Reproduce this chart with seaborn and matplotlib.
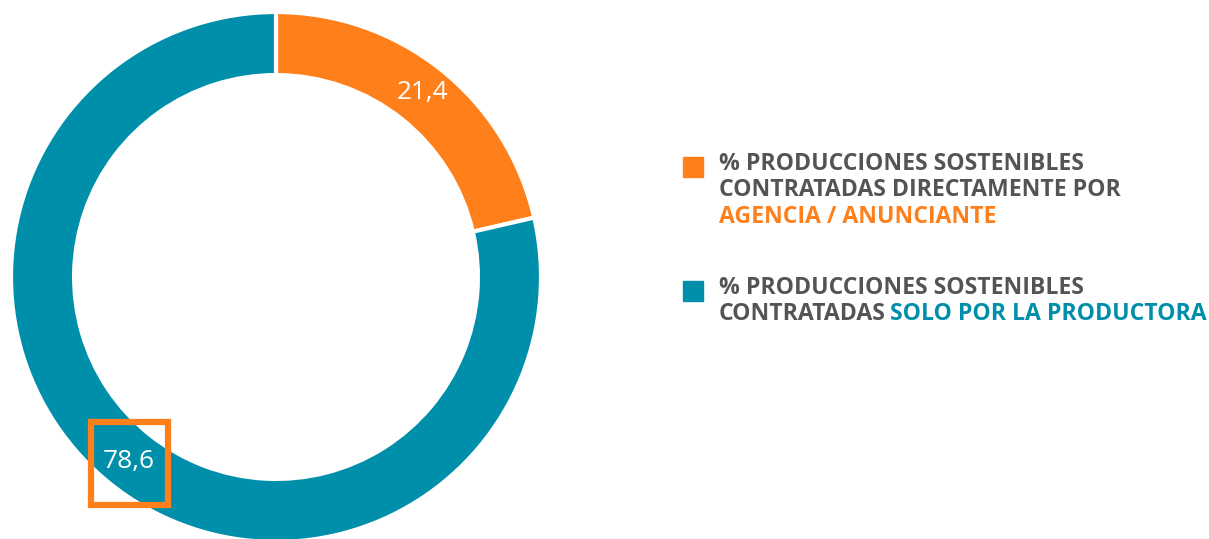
import matplotlib
matplotlib.use("Agg")
import matplotlib.pyplot as plt
import seaborn as sns
import numpy as np
from matplotlib.patches import Rectangle

sns.set_theme(style="white")
plt.rcParams['font.family'] = ['Open Sans', 'DejaVu Sans']

categories = ["AGENCIA / ANUNCIANTE", "SOLO POR LA PRODUCTORA"]
values = [21.4, 78.6]
value_labels = ["21,4", "78,6"]
colors = ["#FF7F1A", "#008FAA"]
legend_prefix = ["% PRODUCCIONES SOSTENIBLES\nCONTRATADAS DIRECTAMENTE POR",
                 "% PRODUCCIONES SOSTENIBLES\nCONTRATADAS"]
gray = "#545457"

W, H = 1209, 539
fig = plt.figure(figsize=(W / 100, H / 100), dpi=100)
ax = fig.add_axes([11 / W, -3 / H, 530 / W, 530 / H])
wedges, _ = ax.pie(values, colors=colors, startangle=90, counterclock=False,
                   radius=1.0, wedgeprops=dict(width=0.238, edgecolor="white", linewidth=3))
ax.set_xlim(-1, 1)
ax.set_ylim(-1, 1)
ax.set_aspect("equal")
ax.axis("off")

fig.canvas.draw()
renderer = fig.canvas.get_renderer()


def fit_size(s, target_px, weight, base=14):
    t = fig.text(0, 0, s, fontsize=base, fontweight=weight)
    w = t.get_window_extent(renderer).width
    t.remove()
    return base * target_px / w


num_fs = fit_size("21,4", 52, "normal", 18)
# value labels at mid angles
for i, w in enumerate(wedges):
    ang = np.deg2rad((w.theta1 + w.theta2) / 2)
    r = 0.89
    x, y = r * np.cos(ang), r * np.sin(ang)
    ax.text(x, y, value_labels[i], color="white", fontsize=num_fs, fontweight="normal",
            ha="center", va="center")
    if i == 1:
        ax.add_patch(Rectangle((x - 0.145, y - 0.165), 0.29, 0.313, fill=False,
                               edgecolor=colors[0], linewidth=4.5, zorder=5))

# legend
fs = fit_size("% PRODUCCIONES SOSTENIBLES", 365, "bold")
sq = 20
legend_tops = [157, 281]
for i in range(2):
    top = legend_tops[i]
    fig.patches.append(Rectangle((683 / W, 1 - (top + sq) / H), sq / W, sq / H,
                                 transform=fig.transFigure, color=colors[i], figure=fig))
    lines = legend_prefix[i].split("\n")
    y0 = top + 7
    lh = 26.5
    for j, ln in enumerate(lines):
        t = fig.text(719 / W, 1 - (y0 + j * lh) / H, ln, color=gray, fontsize=fs,
                     fontweight="bold", ha="left", va="center")
    if i == 0:
        fig.text(719 / W, 1 - (y0 + 2 * lh) / H, categories[i], color=colors[i],
                 fontsize=fs, fontweight="bold", ha="left", va="center")
    else:
        bb = t.get_window_extent(renderer)
        fig.text((bb.x1 + 4) / W, 1 - (y0 + 1 * lh) / H, categories[i], color=colors[i],
                 fontsize=fs, fontweight="bold", ha="left", va="center")

fig.savefig("out.png", dpi=100, facecolor="white")
